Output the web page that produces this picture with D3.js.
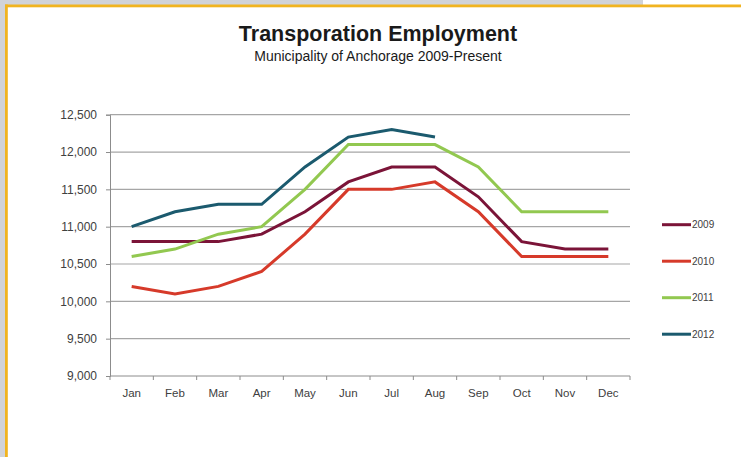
<!DOCTYPE html>
<html>
<head>
<meta charset="utf-8">
<script src="https://cdn.jsdelivr.net/npm/d3@7"></script>
<style>
  html, body { margin: 0; padding: 0; background: #fff; }
  svg { display: block; }
</style>
</head>
<body>
<svg id="chart" width="741" height="457"></svg>
<script>
var months = ["Jan","Feb","Mar","Apr","May","Jun","Jul","Aug","Sep","Oct","Nov","Dec"];
var years = ["2009","2010","2011","2012"];
var colors = ["#7b1438","#d63a2a","#92c850","#1b5a6e"];
var y2009 = [10800,10800,10800,10900,11200,11600,11800,11800,11400,10800,10700,10700];
var y2010 = [10200,10100,10200,10400,10900,11500,11500,11600,11200,10600,10600,10600];
var y2011 = [10600,10700,10900,11000,11500,12100,12100,12100,11800,11200,11200,11200];
var y2012 = [11000,11200,11300,11300,11800,12200,12300,12200];
var yTicks = [9000,9500,10000,10500,11000,11500,12000,12500];

var series = [y2009, y2010, y2011, y2012];

var svg = d3.select("#chart");
var font = "'Liberation Sans', Arial, sans-serif";

// page frame: grey surround and yellow border
svg.append("rect").attr("x",0).attr("y",0).attr("width",643).attr("height",5).attr("fill","#d1d3d8");
svg.append("rect").attr("x",0).attr("y",0).attr("width",5).attr("height",457).attr("fill","#d1d3d8");
svg.append("rect").attr("x",5).attr("y",4.5).attr("width",736).attr("height",2.8).attr("fill","#f1b420");
svg.append("rect").attr("x",5).attr("y",4.5).attr("width",2.8).attr("height",452.5).attr("fill","#f1b420");

var x = d3.scaleBand().domain(months).range([110, 630]);
var y = d3.scaleLinear().domain([9000, 12500]).range([376, 114.7]);

// gridlines
svg.append("g").selectAll("line")
    .data(yTicks.slice(1))
    .enter().append("line")
    .attr("x1", 110).attr("x2", 630)
    .attr("y1", function(d){ return y(d); })
    .attr("y2", function(d){ return y(d); })
    .attr("stroke", "#a6a6a6")
    .attr("stroke-width", 1.2);

// y axis
var yAxis = svg.append("g")
    .attr("transform", "translate(110,0)")
    .call(d3.axisLeft(y).tickValues(yTicks).tickSize(4).tickPadding(9).tickFormat(d3.format(",")));
yAxis.select(".domain").attr("stroke", "#8c8c8c");
yAxis.selectAll(".tick line").attr("stroke", "#8c8c8c");
yAxis.selectAll("text").attr("fill", "#404040").style("font-size", "12px").style("font-family", font);

// x axis, ticks between categories
var xAxis = svg.append("g").attr("transform", "translate(0,376)");
xAxis.append("line").attr("x1", 110).attr("x2", 630).attr("stroke", "#8c8c8c");
xAxis.selectAll(".tk")
    .data(months.concat(["end"]))
    .enter().append("line")
    .attr("x1", function(d,i){ return 110 + i*x.step(); })
    .attr("x2", function(d,i){ return 110 + i*x.step(); })
    .attr("y1", 0).attr("y2", 4)
    .attr("stroke", "#8c8c8c");
xAxis.selectAll("text")
    .data(months)
    .enter().append("text")
    .attr("x", function(d){ return x(d) + x.bandwidth()/2; })
    .attr("y", 21)
    .attr("text-anchor", "middle")
    .attr("fill", "#404040")
    .style("font-size", "11.5px")
    .style("font-family", font)
    .text(function(d){ return d; });

// lines
var line = d3.line()
    .x(function(d,i){ return x(months[i]) + x.bandwidth()/2; })
    .y(function(d){ return y(d); });

svg.append("g").selectAll("path")
    .data(series)
    .enter().append("path")
    .attr("d", function(d){ return line(d); })
    .attr("fill", "none")
    .attr("stroke", function(d,i){ return colors[i]; })
    .attr("stroke-width", 3);

// legend
var leg = svg.append("g").selectAll("g")
    .data(years)
    .enter().append("g")
    .attr("transform", function(d,i){ return "translate(662," + (224.7 + i*36.5) + ")"; });
leg.append("line").attr("x1", 0).attr("x2", 29)
    .attr("stroke", function(d,i){ return colors[i]; })
    .attr("stroke-width", 3);
leg.append("text").attr("x", 30).attr("dy", "0.35em")
    .attr("fill", "#404040")
    .style("font-size", "10px")
    .style("font-family", font)
    .text(function(d){ return d; });

// titles
svg.append("text").attr("x", 378).attr("y", 41).attr("text-anchor", "middle")
    .attr("fill", "#1a1a1a").style("font-size", "21.5px").style("font-weight", "bold")
    .style("font-family", font).text("Transporation Employment");
svg.append("text").attr("x", 378).attr("y", 60.5).attr("text-anchor", "middle")
    .attr("fill", "#1a1a1a").style("font-size", "14px")
    .style("font-family", font).text("Municipality of Anchorage 2009-Present");
</script>
</body>
</html>
